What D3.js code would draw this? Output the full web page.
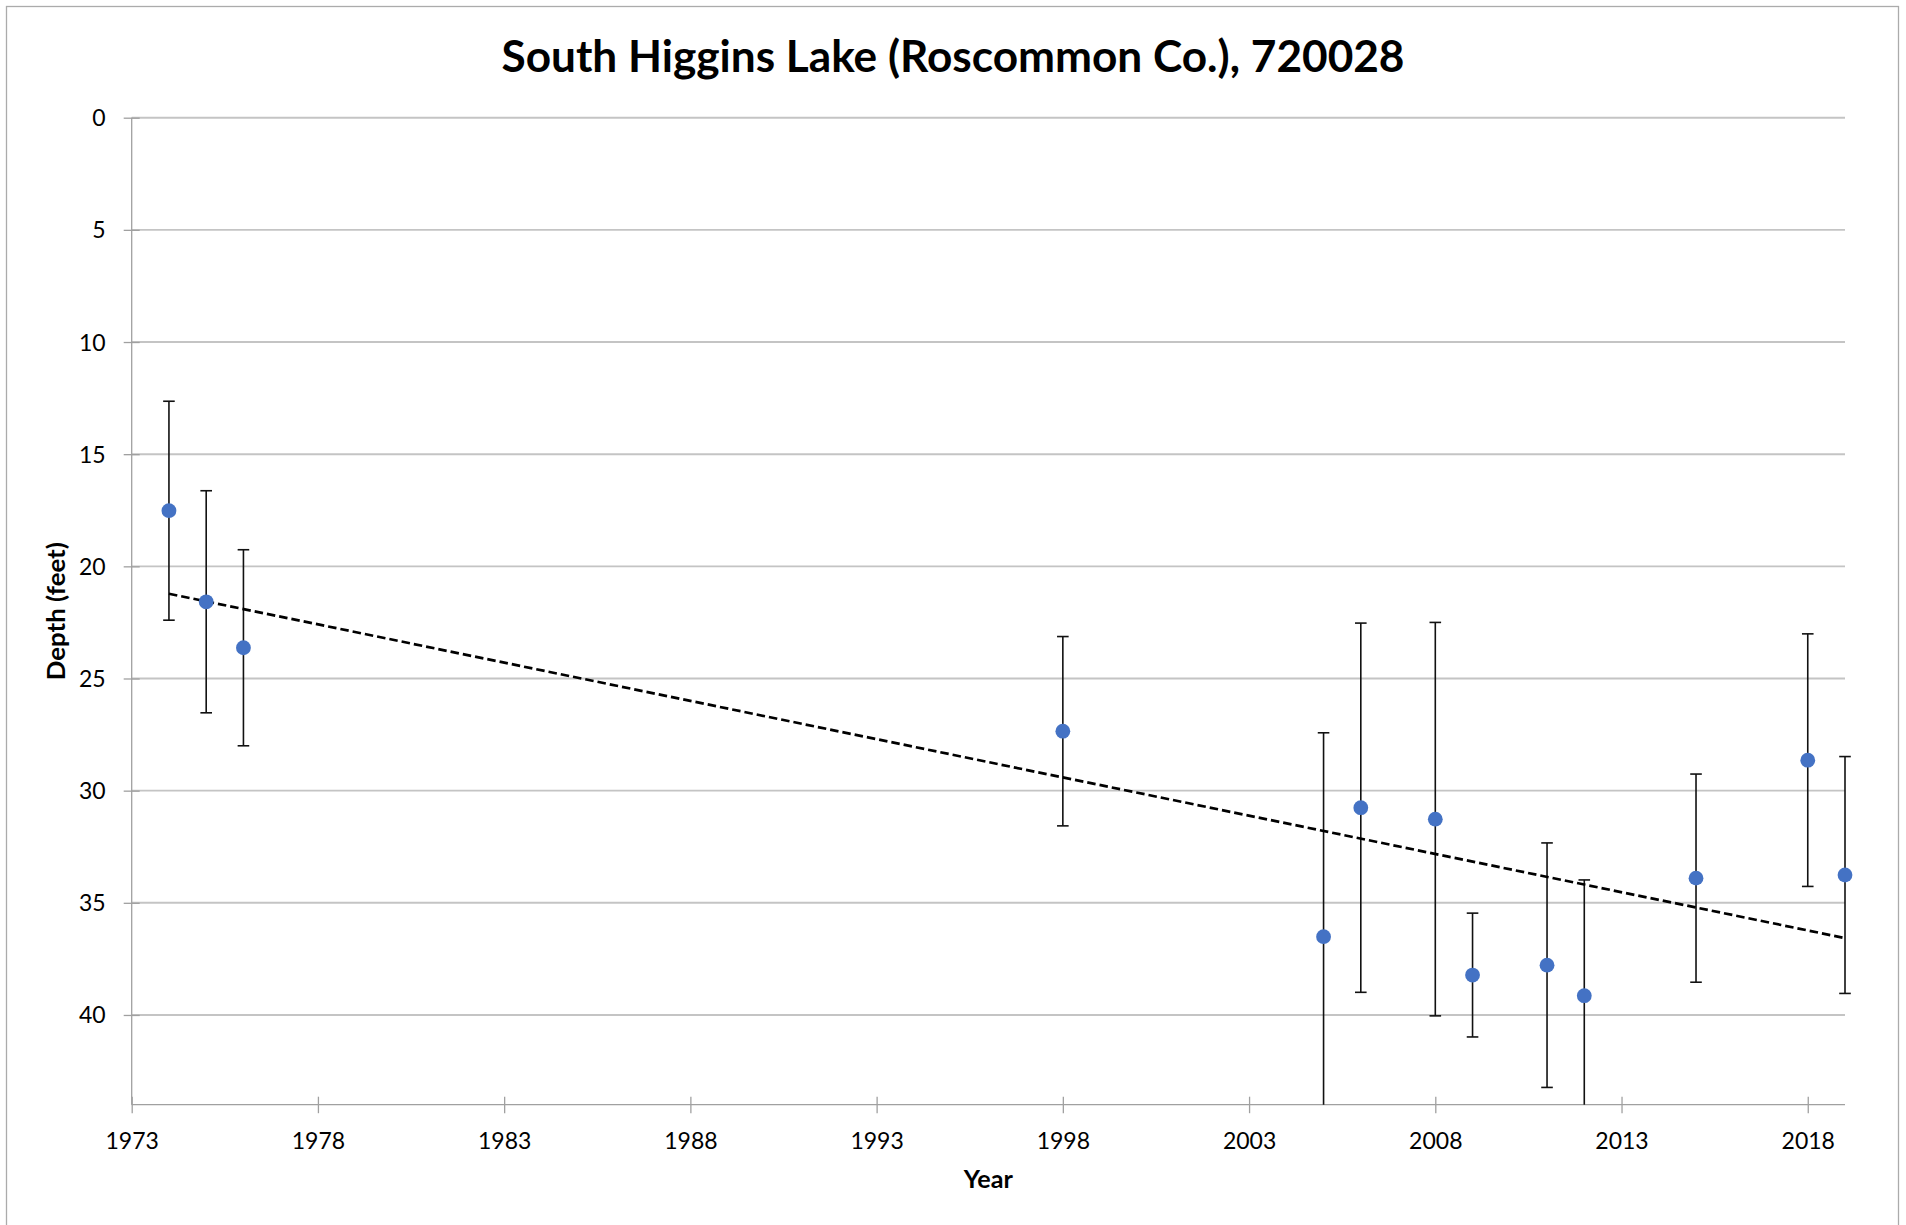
<!DOCTYPE html>
<html>
<head>
<meta charset="utf-8">
<script src="https://cdn.jsdelivr.net/npm/d3@7"></script>
<style>
  html, body { margin: 0; padding: 0; background: #fff; }
  svg { display: block; }
  text { font-family: Lato, "Open Sans", "Liberation Sans", sans-serif; fill: #000; }
</style>
</head>
<body>
<svg id="chart" width="1906" height="1225"></svg>
<script>
// ---- Data ----
const title = "South Higgins Lake (Roscommon Co.), 720028";
const xTitle = "Year";
const yTitle = "Depth (feet)";
const years = [1974, 1975, 1976, 1998, 2005, 2006, 2008, 2009, 2011, 2012, 2015, 2018, 2019];
const depths = [17.52, 21.58, 23.63, 27.35, 36.51, 30.76, 31.27, 38.22, 37.78, 39.14, 33.90, 28.64, 33.76];
const errors = [4.88, 4.95, 4.37, 4.22, 9.09, 8.23, 8.77, 2.76, 5.45, 5.16, 4.64, 5.63, 5.28];
const xTicks = [1973, 1978, 1983, 1988, 1993, 1998, 2003, 2008, 2013, 2018];
const yTicks = [0, 5, 10, 15, 20, 25, 30, 35, 40];
const xDomain = [1973, 2019];
const yDomain = [0, 44];

// ---- Layout ----
const plot = { left: 131.7, right: 1845, top: 117.7, bottom: 1104.7 };

const svg = d3.select("#chart");

// outer chart border
svg.append("rect")
  .attr("x", 6.5).attr("y", 6.5)
  .attr("width", 1892).attr("height", 1230)
  .attr("fill", "#fff").attr("stroke", "#ABABAB").attr("stroke-width", 1.3);

const x = d3.scaleLinear().domain(xDomain).range([plot.left, plot.right]);
const y = d3.scaleLinear().domain(yDomain).range([plot.top, plot.bottom]);

// horizontal gridlines
svg.append("g").selectAll("line").data(yTicks).join("line")
  .attr("x1", plot.left).attr("x2", plot.right)
  .attr("y1", d => y(d)).attr("y2", d => y(d))
  .attr("stroke", "#C4C4C4").attr("stroke-width", 1.9);

// Y axis (cross ticks)
const yAxis = d3.axisLeft(y).tickValues(yTicks).tickSize(0).tickFormat(d3.format("d"));
const gy = svg.append("g").attr("transform", `translate(${plot.left},0)`).call(yAxis);
gy.select(".domain").remove();
gy.selectAll(".tick text")
  .attr("x", -26).attr("dy", null).attr("y", 8)
  .attr("font-size", 23).attr("font-family", "Lato, 'Open Sans', sans-serif")
  .attr("fill", "#000").attr("text-anchor", "end");
gy.selectAll(".tick").append("line")
  .attr("x1", -8).attr("x2", 8).attr("y1", 0).attr("y2", 0)
  .attr("stroke", "#A0A0A0").attr("stroke-width", 1.3);
svg.append("line")
  .attr("x1", plot.left).attr("x2", plot.left)
  .attr("y1", plot.top).attr("y2", plot.bottom)
  .attr("stroke", "#A0A0A0").attr("stroke-width", 1.3);

// X axis (cross ticks)
const xAxis = d3.axisBottom(x).tickValues(xTicks).tickSize(0).tickFormat(d3.format("d"));
const gx = svg.append("g").attr("transform", `translate(0,${plot.bottom})`).call(xAxis);
gx.select(".domain").remove();
gx.selectAll(".tick text")
  .attr("y", 44).attr("dy", null)
  .attr("font-size", 23).attr("font-family", "Lato, 'Open Sans', sans-serif")
  .attr("fill", "#000").attr("text-anchor", "middle");
gx.selectAll(".tick").append("line")
  .attr("x1", 0).attr("x2", 0).attr("y1", -8).attr("y2", 8.5)
  .attr("stroke", "#A0A0A0").attr("stroke-width", 1.3);
svg.append("line")
  .attr("x1", plot.left).attr("x2", plot.right)
  .attr("y1", plot.bottom).attr("y2", plot.bottom)
  .attr("stroke", "#A0A0A0").attr("stroke-width", 1.3);

// ---- Data series ----
const data = years.map((yr, i) => ({ yr, d: depths[i], e: errors[i] }));
const clampY = v => Math.max(yDomain[0], Math.min(yDomain[1], v));

// linear trendline (least squares on the mean values)
const mx = d3.mean(data, d => d.yr), my = d3.mean(data, d => d.d);
const sxy = d3.sum(data, d => (d.yr - mx) * (d.d - my));
const sxx = d3.sum(data, d => (d.yr - mx) ** 2);
const slope = sxy / sxx, icpt = my - slope * mx;
const xMin = d3.min(years), xMax = d3.max(years);

// error bars
const eb = svg.append("g").attr("stroke", "#111").attr("stroke-width", 1.6);
data.forEach(d => {
  const top = d.d - d.e, bot = d.d + d.e;
  eb.append("line")
    .attr("x1", x(d.yr)).attr("x2", x(d.yr))
    .attr("y1", y(clampY(top))).attr("y2", y(clampY(bot)));
  if (top >= yDomain[0]) {
    eb.append("line").attr("x1", x(d.yr) - 5.8).attr("x2", x(d.yr) + 5.8)
      .attr("y1", y(top)).attr("y2", y(top));
  }
  if (bot <= yDomain[1]) {
    eb.append("line").attr("x1", x(d.yr) - 5.8).attr("x2", x(d.yr) + 5.8)
      .attr("y1", y(bot)).attr("y2", y(bot));
  }
});

// trendline
svg.append("line")
  .attr("x1", x(xMin)).attr("y1", y(icpt + slope * xMin))
  .attr("x2", x(xMax)).attr("y2", y(icpt + slope * xMax))
  .attr("stroke", "#000").attr("stroke-width", 2.7)
  .attr("stroke-dasharray", "8.5,4");

// points
svg.append("g").selectAll("ellipse").data(data).join("ellipse")
  .attr("cx", d => x(d.yr)).attr("cy", d => y(d.d))
  .attr("rx", 7.4).attr("ry", 7.4)
  .attr("fill", "#4472C4");

// ---- Titles ----
svg.append("text")
  .attr("x", 953).attr("y", 71.5)
  .attr("text-anchor", "middle")
  .attr("font-size", 43).attr("font-weight", "bold")
  .attr("textLength", 903).attr("lengthAdjust", "spacingAndGlyphs")
  .text(title);

svg.append("text")
  .attr("x", (plot.left + plot.right) / 2).attr("y", 1188)
  .attr("text-anchor", "middle")
  .attr("font-size", 24).attr("font-weight", "bold")
  .attr("textLength", 49).attr("lengthAdjust", "spacingAndGlyphs")
  .text(xTitle);

svg.append("text")
  .attr("transform", `translate(65,${(plot.top + plot.bottom) / 2}) rotate(-90)`)
  .attr("text-anchor", "middle")
  .attr("font-size", 24).attr("font-weight", "bold")
  .attr("textLength", 138).attr("lengthAdjust", "spacingAndGlyphs")
  .text(yTitle);
</script>
</body>
</html>
